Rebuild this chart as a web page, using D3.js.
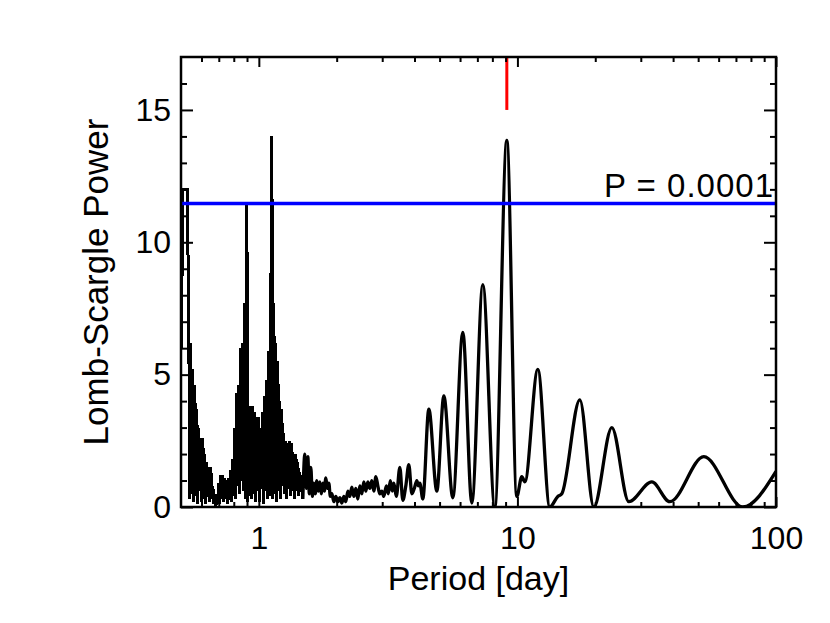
<!DOCTYPE html>
<html>
<head>
<meta charset="utf-8">
<script src="https://cdn.jsdelivr.net/npm/d3@7"></script>
<style>
  html, body { margin: 0; padding: 0; background: #fff; }
  svg text { font-family: "Liberation Sans", Arial, Helvetica, sans-serif; fill: #000; }
</style>
</head>
<body>
<div id="chart"></div>
<script>
// Lomb-Scargle periodogram, period in days
const period = [
  0.5015, 0.5083, 0.5291, 0.5362, 0.5410, 0.5458, 0.5507, 0.5556, 0.5606, 0.5656,
  0.5707, 0.5758, 0.5809, 0.5861, 0.5914, 0.5966, 0.6020, 0.6074, 0.6128, 0.6183,
  0.6238, 0.6294, 0.6350, 0.6407, 0.6464, 0.6522, 0.6580, 0.6639, 0.6699, 0.6759,
  0.6819, 0.6880, 0.6942, 0.7004, 0.7066, 0.7129, 0.7193, 0.7258, 0.7322, 0.7388,
  0.7454, 0.7521, 0.7588, 0.7656, 0.7724, 0.7793, 0.7863, 0.7933, 0.8004, 0.8076,
  0.8148, 0.8221, 0.8295, 0.8369, 0.8444, 0.8519, 0.8595, 0.8672, 0.8750, 0.8828,
  0.8907, 0.8987, 0.9067, 0.9148, 0.9230, 0.9313, 0.9396, 0.9480, 0.9565, 0.9650,
  0.9736, 0.9824, 0.9911, 1.0000, 1.0089, 1.0180, 1.0271, 1.0363, 1.0455, 1.0549,
  1.0643, 1.0738, 1.0834, 1.0931, 1.1029, 1.1128, 1.1227, 1.1328, 1.1429, 1.1531,
  1.1634, 1.1738, 1.1843, 1.1949, 1.2056, 1.2164, 1.2273, 1.2383, 1.2493, 1.2605,
  1.2718, 1.2831, 1.2946, 1.3062, 1.3179, 1.3297, 1.3416, 1.3536, 1.3657, 1.3779,
  1.3902, 1.4026, 1.4152, 1.4278, 1.4406, 1.4535, 1.4665, 1.4796, 1.5062, 1.5264,
  1.5470, 1.5678, 1.5889, 1.6102, 1.6319, 1.6538, 1.6760, 1.6986, 1.7214, 1.7445,
  1.7680, 1.7918, 1.8159, 1.8403, 1.8650, 1.8901, 1.9155, 1.9500, 1.9850, 2.0207,
  2.0570, 2.0939, 2.1315, 2.1698, 2.2088, 2.2485, 2.2889, 2.3301, 2.3719, 2.4145,
  2.4579, 2.5021, 2.5470, 2.5928, 2.6394, 2.6868, 2.7351, 2.7842, 2.8343, 2.8852,
  2.9370, 2.9898, 3.0435, 3.1120, 3.1680, 3.2249, 3.2828, 3.3269, 3.4018, 3.5095,
  3.6045, 3.7021, 3.8023, 3.9053, 3.9931, 4.0831, 4.1380, 4.1936, 4.3071,
  4.5435, 4.8789, 5.1927, 5.6259, 6.1499, 6.6630, 7.3486, 8.1773, 9.0994, 9.9468,
  10.400, 10.681, 11.992, 13.344, 14.329, 14.849, 17.430, 19.744, 23.18, 26.97,
  33.09, 38.86, 52.58, 74.39, 100.0
];

const power = [
  6.0, 12.0, 12.0, 6.4, 0.3, 6.2, 0.5, 5.2, 0.2, 4.6,
  0.4, 3.7, 0.1, 3.0, 0.6, 2.6, 0.2, 2.6, 0.3, 2.0,
  0.1, 1.7, 0.4, 1.5, 0.2, 1.5, 0.3, 0.8, 0.1, 0.5,
  0.0, 0.5, 0.2, 0.9, 0.1, 1.2, 0.4, 1.2, 0.2, 1.1,
  0.3, 1.0, 0.1, 1.1, 0.3, 1.4, 0.2, 1.8, 0.4, 3.0,
  0.3, 4.3, 0.8, 4.6, 0.5, 6.0, 1.0, 6.2, 0.6, 7.7,
  0.3, 11.5, 0.2, 3.6, 0.4, 3.8, 0.3, 3.8, 0.5, 3.6,
  0.2, 3.4, 0.6, 3.4, 0.2, 3.0, 0.9, 3.6, 0.1, 4.2,
  0.6, 4.8, 0.3, 5.9, 0.4, 7.7, 14.0, 0.3, 7.7, 0.5,
  6.2, 0.2, 5.5, 0.6, 4.0, 0.3, 3.7, 0.8, 2.8, 0.5,
  2.5, 0.3, 2.4, 0.8, 2.5, 0.4, 2.4, 0.6, 1.9, 0.3,
  2.0, 0.9, 1.7, 0.4, 1.3, 0.8, 0.9, 0.3, 2.0, 0.7,
  1.9, 0.5, 1.5, 0.4, 0.9, 0.5, 1.0, 0.6, 0.95, 0.5,
  0.9, 0.6, 1.1, 0.7, 0.9, 0.4, 0.5, 0.2, 0.4, 0.2,
  0.35, 0.15, 0.4, 0.2, 0.6, 0.4, 0.75, 0.4, 0.7, 0.3,
  0.8, 0.5, 0.95, 0.6, 0.95, 0.7, 1.0, 0.6, 1.15, 0.8,
  0.5, 0.6, 0.4, 0.8, 0.5, 1.0, 0.6, 0.9, 0.4, 1.5,
  0.25, 0.8, 1.6, 0.5, 0.7, 1.0, 0.8, 0.9, 0.3,
  3.7, 0.6, 4.2, 0.35, 6.6, 0.15, 8.4, 0.0, 13.85, 0.4,
  1.15, 0.95, 5.2, 0.0, 0.4, 0.5, 4.05, 0.0, 3.0, 0.2,
  0.95, 0.2, 1.9, 0.0, 1.35
];

// below this period the periodogram is densely sampled (solid black band)
const denseLimit = 1.4796;

const xMajorTicks = [1, 10, 100];
const xMinorTicks = [0.6, 0.7, 0.8, 0.9, 2, 3, 4, 5, 6, 7, 8, 9, 20, 30, 40, 50, 60, 70, 80, 90];
const yMajorTicks = [0, 5, 10, 15];
const yMinorTicks = [1, 2, 3, 4, 6, 7, 8, 9, 11, 12, 13, 14, 16];

const fapLevel = 11.47;
const fapLabel = "P = 0.0001";
const bestPeriod = 9.10;
const markerSpan = [15, 17];

const xTitle = "Period [day]";
const yTitle = "Lomb-Scargle Power";

// ── Layout ──────────────────────────────────────────────────────────────
const W = 830, H = 623;
const L = 181, R = 776, T = 57, B = 507;

const svg = d3.select("#chart").append("svg")
  .attr("width", W).attr("height", H);

const x = d3.scaleLog().domain([0.5, 100]).range([L, R]);
const y = d3.scaleLinear().domain([0, 17]).range([B, T]);

svg.append("defs").append("clipPath").attr("id", "plot-clip")
  .append("rect").attr("x", L).attr("y", T).attr("width", R - L).attr("height", B - T);

// ── Curve ───────────────────────────────────────────────────────────────
const pts = period.map((p, i) => [p, power[i]]);
const densePts = pts.filter(d => d[0] <= denseLimit);
const smoothPts = pts.filter(d => d[0] >= denseLimit);

const lineDense = d3.line().x(d => x(d[0])).y(d => y(d[1]));
const lineSmooth = d3.line().x(d => x(d[0])).y(d => y(d[1])).curve(d3.curveMonotoneX);

const curveG = svg.append("g").attr("clip-path", "url(#plot-clip)");

curveG.append("path")
  .datum(densePts)
  .attr("fill", "none")
  .attr("stroke", "#000")
  .attr("stroke-width", 3)
  .attr("stroke-linejoin", "miter")
  .attr("shape-rendering", "crispEdges")
  .attr("d", lineDense);

curveG.append("path")
  .datum(smoothPts)
  .attr("fill", "none")
  .attr("stroke", "#000")
  .attr("stroke-width", 3.3)
  .attr("stroke-linejoin", "round")
  .attr("d", lineSmooth);

// ── False-alarm level and best period marker ────────────────────────────
svg.append("line")
  .attr("x1", x(0.5)).attr("x2", x(100))
  .attr("y1", y(fapLevel)).attr("y2", y(fapLevel))
  .attr("stroke", "#0000ff").attr("stroke-width", 3.5);

svg.append("line")
  .attr("x1", x(bestPeriod)).attr("x2", x(bestPeriod))
  .attr("y1", y(markerSpan[0])).attr("y2", y(markerSpan[1]))
  .attr("stroke", "#ff0000").attr("stroke-width", 3);

svg.append("text")
  .attr("x", R - 2).attr("y", y(fapLevel) - 6)
  .attr("text-anchor", "end")
  .style("font-size", "33px")
  .style("letter-spacing", "1px")
  .text(fapLabel);

// ── Axes (ticks point inward on all four sides) ─────────────────────────
function styleAxis(g) {
  g.select(".domain").remove();
  g.selectAll(".tick line").attr("stroke", "#000").attr("stroke-width", 2);
  g.selectAll("text").style("font-size", "32px")
    .style("font-family", "'Liberation Sans', Arial, Helvetica, sans-serif")
    .attr("fill", "#000");
}

svg.append("g").attr("transform", `translate(0,${B})`)
  .call(d3.axisBottom(x).tickValues(xMajorTicks).tickSize(-10).tickPadding(19)
    .tickFormat(d3.format("d")))
  .call(styleAxis);
svg.append("g").attr("transform", `translate(0,${B})`)
  .call(d3.axisBottom(x).tickValues(xMinorTicks).tickSize(-5).tickFormat(""))
  .call(styleAxis);
svg.append("g").attr("transform", `translate(0,${T})`)
  .call(d3.axisTop(x).tickValues(xMajorTicks).tickSize(-10).tickFormat(""))
  .call(styleAxis);
svg.append("g").attr("transform", `translate(0,${T})`)
  .call(d3.axisTop(x).tickValues(xMinorTicks).tickSize(-5).tickFormat(""))
  .call(styleAxis);

svg.append("g").attr("transform", `translate(${L},0)`)
  .call(d3.axisLeft(y).tickValues(yMajorTicks).tickSize(-12).tickPadding(10))
  .call(styleAxis);
svg.append("g").attr("transform", `translate(${L},0)`)
  .call(d3.axisLeft(y).tickValues(yMinorTicks).tickSize(-6).tickFormat(""))
  .call(styleAxis);
svg.append("g").attr("transform", `translate(${R},0)`)
  .call(d3.axisRight(y).tickValues(yMajorTicks).tickSize(-12).tickFormat(""))
  .call(styleAxis);
svg.append("g").attr("transform", `translate(${R},0)`)
  .call(d3.axisRight(y).tickValues(yMinorTicks).tickSize(-6).tickFormat(""))
  .call(styleAxis);

// frame
svg.append("rect")
  .attr("x", L).attr("y", T).attr("width", R - L).attr("height", B - T)
  .attr("fill", "none").attr("stroke", "#000").attr("stroke-width", 2.5);

// ── Titles ──────────────────────────────────────────────────────────────
svg.append("text")
  .attr("x", (L + R) / 2).attr("y", 590)
  .attr("text-anchor", "middle")
  .style("font-size", "34px")
  .text(xTitle);

svg.append("text")
  .attr("transform", `translate(108,${(T + B) / 2}) rotate(-90)`)
  .attr("text-anchor", "middle")
  .style("font-size", "35px")
  .text(yTitle);
</script>
</body>
</html>
